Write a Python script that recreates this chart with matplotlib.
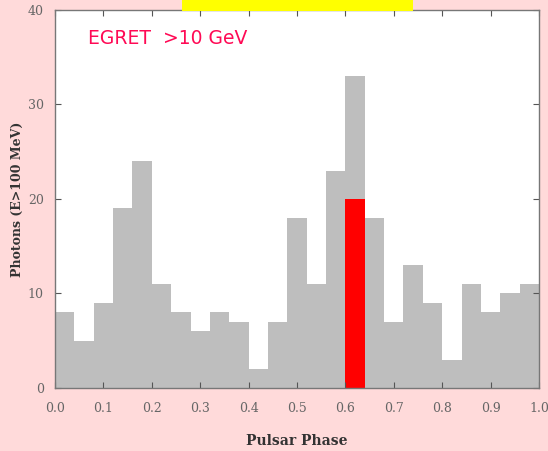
import numpy as np
import matplotlib.pyplot as plt
from matplotlib.patches import Rectangle

# 25 phase bins of width 0.04
bin_edges = np.linspace(0.0, 1.0, 26)
counts = [8, 5, 9, 19, 24, 11, 8, 6, 8, 7, 2, 7, 18, 11, 23,
          33, 18, 7, 13, 9, 3, 11, 8, 10, 11]
highlight_bin = 15
highlight_count = 20

x_ticks = [0.0, 0.1, 0.2, 0.3, 0.4, 0.5, 0.6, 0.7, 0.8, 0.9, 1.0]
x_tick_labels = ["0.0", "0.1", "0.2", "0.3", "0.4", "0.5",
                 "0.6", "0.7", "0.8", "0.9", "1.0"]
y_ticks = [0, 10, 20, 30, 40]

fig = plt.figure(figsize=(5.48, 4.51), dpi=100)
fig.patch.set_facecolor("#ffdada")

ax = fig.add_axes([0.1004, 0.1397, 0.8832, 0.8383])
ax.set_facecolor("white")

widths = np.diff(bin_edges)
ax.bar(bin_edges[:-1], counts, width=widths, align="edge",
       color="#bebebe", edgecolor="none")
ax.bar(bin_edges[highlight_bin], highlight_count, width=widths[highlight_bin],
       align="edge", color="#ff0000", edgecolor="none")

ax.set_xlim(0, 1)
ax.set_ylim(0, 40)
ax.set_xticks(x_ticks)
ax.set_xticklabels(x_tick_labels)
ax.set_yticks(y_ticks)

ax.tick_params(direction="in", length=4, width=0.8, color="#555555",
               top=True, right=True, labelsize=9, labelcolor="#666666")
ax.tick_params(axis="x", pad=10)
ax.tick_params(axis="y", pad=8)
for lab in ax.get_xticklabels() + ax.get_yticklabels():
    lab.set_family("serif")

for sp in ax.spines.values():
    sp.set_color("#777777")
    sp.set_linewidth(1.0)

ax.set_xlabel("Pulsar Phase", family="serif", fontweight="bold",
              fontsize=10, color="#333333", labelpad=14)
ax.set_ylabel("Photons (E>100 MeV)", family="serif", fontweight="bold",
              fontsize=9, color="#333333", labelpad=3)

ax.text(0.068, 0.925, "EGRET  >10 GeV", transform=ax.transAxes,
        fontsize=13.5, color="#ff0a55", ha="left", va="center")

# yellow strip at the top of the slide
fig.patches.append(Rectangle((182 / 548, 1 - 11 / 451), 231 / 548, 11 / 451,
                             transform=fig.transFigure, facecolor="#ffff00",
                             edgecolor="none", zorder=5))

plt.savefig("out.png", dpi=100, facecolor=fig.get_facecolor())
